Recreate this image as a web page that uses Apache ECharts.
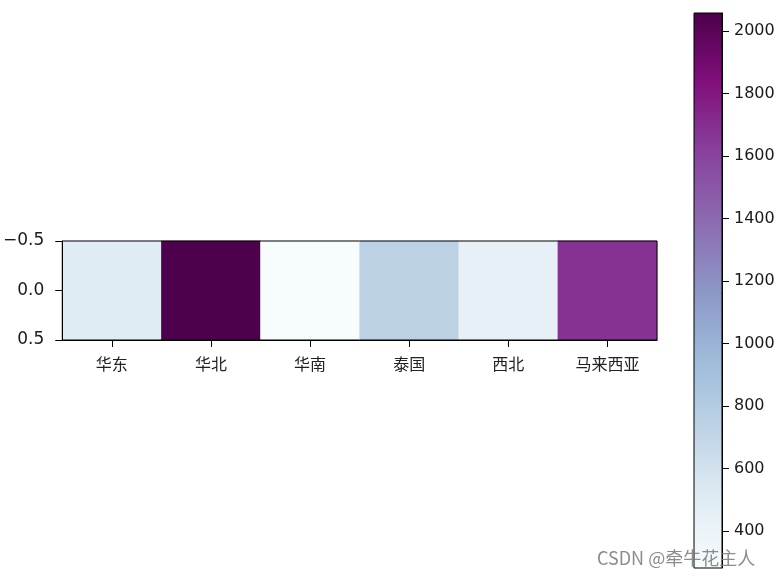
<!DOCTYPE html>
<html><head><meta charset="utf-8">
<script src="https://cdn.jsdelivr.net/npm/echarts@6/dist/echarts.min.js"></script>
<style>html,body{margin:0;padding:0;background:#fff}#c{width:783px;height:578px}</style>
</head><body><div id="c"></div>
<script>
const regions = ['华东', '华北', '华南', '泰国', '西北', '马来西亚'];
const values = [500, 2058, 281, 740, 445, 1680];
const rowLabels = [''];
const rowTicks = [-0.5, 0.0, 0.5];
const colorbarTicks = [400, 600, 800, 1000, 1200, 1400, 1600, 1800, 2000];
const colorMin = 281;
const colorMax = 2058;
const BuPu = ['#f7fcfd', '#e0ecf4', '#bfd3e6', '#9ebcda', '#8c96c6', '#8c6bb1', '#88419d', '#810f7c', '#4d004b'];

const numFont = 'DejaVu Sans';
const cjkFont = 'Noto Sans CJK SC';
const chart = echarts.init(document.getElementById('c'), null, {renderer: 'canvas'});
const heatData = regions.map((r, i) => [i, 0, values[i]]);

chart.setOption({
  animation: false,
  backgroundColor: '#fff',
  grid: [
    {left: 62, top: 241, width: 595, height: 99, show: true, z: 10, backgroundColor: 'transparent',
      borderColor: '#000', borderWidth: 1, containLabel: false},
    {left: 694, top: 13, width: 28, height: 555, show: true, borderColor: '#000', borderWidth: 1,
      backgroundColor: {type: 'linear', x: 0, y: 1, x2: 0, y2: 0,
        colorStops: BuPu.map((c, i) => ({offset: i / (BuPu.length - 1), color: c}))}}
  ],
  xAxis: [
    {gridIndex: 0, type: 'category', data: regions, position: 'bottom', z: 11,
      axisLine: {show: true, onZero: false, lineStyle: {color: '#000', width: 1}},
      axisTick: {show: true, alignWithLabel: true, length: 7, lineStyle: {color: '#000'}},
      axisLabel: {margin: 16, color: '#222', fontFamily: cjkFont, fontSize: 16},
      splitLine: {show: false}, splitArea: {show: false}},
    {gridIndex: 1, type: 'value', show: false}
  ],
  yAxis: [
    {gridIndex: 0, type: 'category', data: rowLabels, position: 'right', show: false},
    {gridIndex: 0, type: 'value', min: rowTicks[0], max: rowTicks[rowTicks.length - 1], interval: 0.5,
      inverse: true, position: 'left', z: 11,
      axisLine: {show: true, onZero: false, lineStyle: {color: '#000', width: 1}},
      axisTick: {show: true, length: 7, lineStyle: {color: '#000'}},
      axisLabel: {margin: 18, color: '#1a1a1a', fontFamily: numFont, fontSize: 17,
        formatter: v => (v < 0 ? '\u2212' : '') + Math.abs(v).toFixed(1)},
      splitLine: {show: false}},
    {gridIndex: 1, type: 'value', min: colorMin, max: colorMax, position: 'right',
      axisLine: {show: true, onZero: false, lineStyle: {color: '#000', width: 1}},
      axisTick: {show: true, length: 7, lineStyle: {color: '#000'}, customValues: colorbarTicks},
      axisLabel: {margin: 12, color: '#1a1a1a', fontFamily: numFont, fontSize: 16, customValues: colorbarTicks,
        formatter: v => String(v)},
      splitLine: {show: false}}
  ],
  visualMap: {show: false, type: 'continuous', min: colorMin, max: colorMax, dimension: 2, seriesIndex: 0,
    inRange: {color: BuPu}},
  series: [{
    type: 'heatmap', xAxisIndex: 0, yAxisIndex: 0, data: heatData, z: 2,
    itemStyle: {borderWidth: 0}, emphasis: {disabled: true}, label: {show: false}
  }],
  graphic: [{
    type: 'text', left: 597, top: 549, z: 100,
    style: {text: 'CSDN @牵牛花主人', fill: 'rgba(120,120,120,0.85)', font: '18px "Noto Sans CJK SC"'}
  }]
});
</script></body></html>
